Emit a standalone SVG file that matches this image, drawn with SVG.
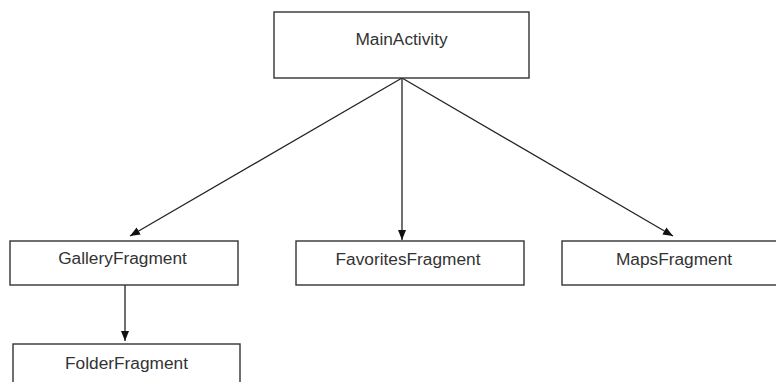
<svg xmlns="http://www.w3.org/2000/svg" width="776" height="382" viewBox="0 0 776 382">
<defs>
<style>
.box{fill:#fff;stroke:#333;stroke-width:1.4}
.lbl{font-family:"Liberation Sans",Arial,sans-serif;font-size:17.3px;fill:#333;text-anchor:middle}
.edge{stroke:#222;stroke-width:1.3;fill:none;marker-end:url(#arr)}
</style>
<marker id="arr" viewBox="0 0 10 10" refX="10" refY="5" markerWidth="10" markerHeight="10" markerUnits="userSpaceOnUse" orient="auto">
<path d="M0,1 L10,5 L0,9 z" fill="#111"/>
</marker>
</defs>
<rect width="776" height="382" fill="#fff"/>
<g id="edges">
<path class="edge" d="M402,78 L130,236"/>
<path class="edge" d="M402,78 L402,240"/>
<path class="edge" d="M402,78 L673,236"/>
<path class="edge" d="M125,285 L125,341"/>
</g>
<g id="MainActivity"><rect class="box" x="274" y="12" width="255" height="66"/><text class="lbl" x="401.5" y="45">MainActivity</text></g>
<g id="GalleryFragment"><rect class="box" x="10" y="241" width="228" height="44"/><text class="lbl" x="122.5" y="263.5">GalleryFragment</text></g>
<g id="FavoritesFragment"><rect class="box" x="296" y="241" width="228" height="44"/><text class="lbl" x="408" y="265">FavoritesFragment</text></g>
<g id="MapsFragment"><rect class="box" x="562" y="241" width="228" height="44"/><text class="lbl" x="674" y="265">MapsFragment</text></g>
<g id="FolderFragment"><rect class="box" x="13" y="344" width="227" height="50"/><text class="lbl" x="126.5" y="368.5">FolderFragment</text></g>
</svg>
